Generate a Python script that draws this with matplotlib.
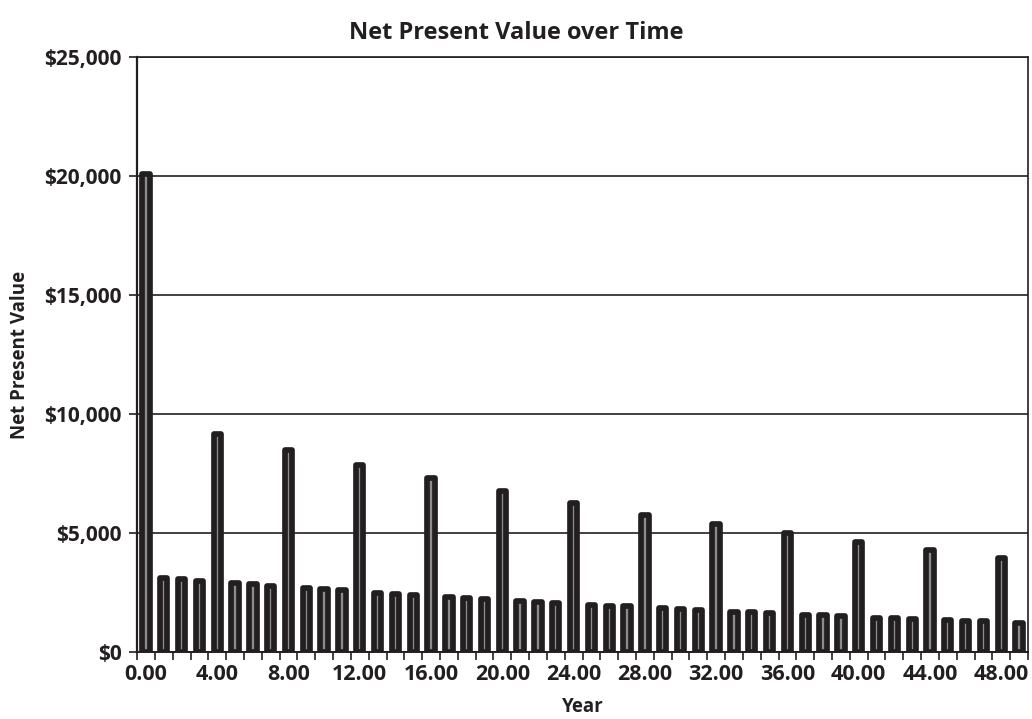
import matplotlib
matplotlib.use("Agg")
import matplotlib.pyplot as plt
from matplotlib.ticker import FuncFormatter, FixedLocator
import numpy as np

years = list(range(50))
npv = [20090, 3100, 3046, 2992, 9180, 2878, 2836, 2782, 8496, 2668,
       2626, 2584, 7866, 2470, 2445, 2403, 7290, 2303, 2248, 2206,
       6744, 2134, 2092, 2050, 6252, 1983, 1941, 1912, 5765, 1828,
       1786, 1758, 5370, 1700, 1668, 1638, 4979, 1563, 1534, 1506,
       4614, 1437, 1420, 1395, 4265, 1336, 1311, 1294, 3970, 1239]
label_years = list(range(0, 50, 4))

title = "Net Present Value over Time"
xlabel = "Year"
ylabel = "Net Present Value"

dark = "#231f20"
plt.rcParams['font.family'] = ['Open Sans', 'DejaVu Sans']
plt.rcParams['font.weight'] = 'bold'

fig = plt.figure(figsize=(10.32, 7.19), dpi=100)
ax = fig.add_axes([0.1328, 0.0932, 0.8633, 0.8275])

bars = ax.bar(years, npv, width=0.41, facecolor="#8c8c8c", edgecolor=dark,
              linewidth=4.1, zorder=3)
for b in bars:
    b.set_joinstyle('round')

ax.set_xlim(-0.5, 49.5)
ax.set_ylim(0, 25000)
ax.yaxis.set_major_locator(FixedLocator(np.arange(0, 25001, 5000)))
ax.yaxis.set_major_formatter(FuncFormatter(lambda v, p: "${:,.0f}".format(v)))
ax.grid(axis='y', color=dark, linewidth=1.2, zorder=1)

ax.set_xticks(label_years)
ax.set_xticklabels(["{:.2f}".format(y) for y in label_years])
ax.set_xticks(np.arange(-0.5, 50, 1), minor=True)
ax.tick_params(axis='x', which='major', length=0, pad=9, labelsize=15.5, colors=dark)
ax.tick_params(axis='x', which='minor', length=6, width=1.2, direction='out', color=dark)
ax.tick_params(axis='y', which='major', length=6, width=1.2, direction='out', pad=5,
               labelsize=15, colors=dark)
for lab in ax.get_xticklabels() + ax.get_yticklabels():
    lab.set_fontweight('bold')

for s in ax.spines.values():
    s.set_color(dark)
    s.set_linewidth(1.2)
ax.spines['left'].set_linewidth(1.6)
ax.spines['bottom'].set_linewidth(1.4)

fig.suptitle(title, fontsize=17, fontweight='bold', color=dark, x=0.5, y=0.971, va='top')
ax.set_xlabel(xlabel, fontsize=13.5, fontweight='bold', color=dark, labelpad=8)
ax.set_ylabel(ylabel, fontsize=13.5, fontweight='bold', color=dark, labelpad=10)

fig.savefig("out.png", dpi=100)
